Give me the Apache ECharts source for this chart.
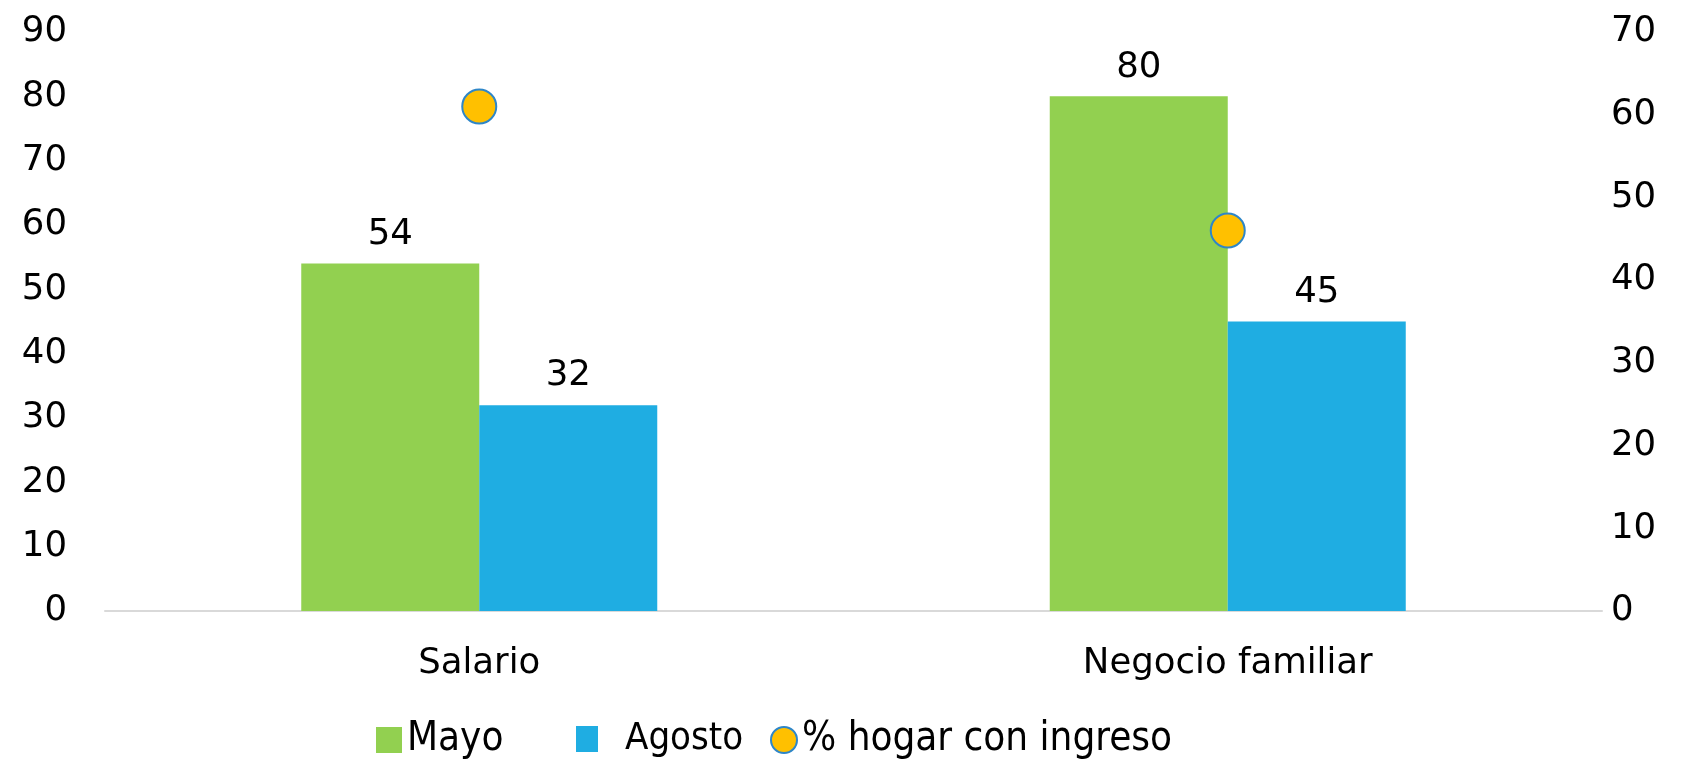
<!DOCTYPE html>
<html>
<head>
<meta charset="utf-8">
<script src="https://cdn.jsdelivr.net/npm/echarts@6/dist/echarts.min.js"></script>
<style>
html,body{margin:0;padding:0;background:#fff;}
#chart{width:1695px;height:759px;}
</style>
</head>
<body>
<div id="chart"></div>
<script>
var categories = ['Salario', 'Negocio familiar'];
var mayo = [54, 80];
var agosto = [32, 45];
var hogar = [61, 46];
var leftTicks = [0, 90, 10];
var rightTicks = [0, 70, 10];

var FONT = '"DejaVu Sans", sans-serif';
var NARROW = '"Liberation Sans Narrow", "DejaVu Sans Condensed", sans-serif';
var FS = 35.5;
var chart = echarts.init(document.getElementById('chart'));
var legendText = {fontFamily: NARROW, fontSize: 40, color: '#000'};
chart.setOption({
  animation: false,
  backgroundColor: '#fff',
  grid: {left: 105, right: 93, top: 32, bottom: 148, containLabel: false},
  legend: [
    {data: [{name: 'Mayo', icon: 'rect'}], left: 376, top: 720, itemWidth: 26, itemHeight: 26, textStyle: legendText, padding: 0},
    {data: [{name: 'Agosto', icon: 'rect'}], left: 576, top: 720, itemWidth: 22, itemHeight: 26,
     textStyle: Object.assign({}, legendText, {fontSize: 38, padding: [0, 0, 0, 22]}), padding: 0},
    {data: [{name: '% hogar con ingreso', icon: 'circle'}], left: 770, top: 720, itemWidth: 26, itemHeight: 26, textStyle: legendText, padding: 0}
  ],
  xAxis: {
    type: 'category',
    data: categories,
    axisLine: {lineStyle: {color: '#D9D9D9', width: 2}},
    axisTick: {show: false},
    axisLabel: {color: '#000', fontFamily: FONT, fontSize: FS, margin: 35}
  },
  yAxis: [
    {type: 'value', min: leftTicks[0], max: leftTicks[1], interval: leftTicks[2],
     splitLine: {show: false}, axisLine: {show: false}, axisTick: {show: false},
     axisLabel: {color: '#000', fontFamily: FONT, fontSize: FS, margin: 38}},
    {type: 'value', min: rightTicks[0], max: rightTicks[1], interval: rightTicks[2],
     splitLine: {show: false}, axisLine: {show: false}, axisTick: {show: false},
     axisLabel: {color: '#000', fontFamily: FONT, fontSize: FS, margin: 9}}
  ],
  series: [
    {name: 'Mayo', type: 'bar', data: mayo, barWidth: 178, barGap: '0%',
     itemStyle: {color: '#92D050'},
     label: {show: true, position: 'top', distance: 11, color: '#000', fontFamily: FONT, fontSize: FS}},
    {name: 'Agosto', type: 'bar', data: agosto, barWidth: 178, barGap: '0%',
     itemStyle: {color: '#1FADE2'},
     label: {show: true, position: 'top', distance: 11, color: '#000', fontFamily: FONT, fontSize: FS}},
    {name: '% hogar con ingreso', type: 'scatter', yAxisIndex: 1, data: hogar, symbol: 'circle', symbolSize: 34,
     itemStyle: {color: '#FFC000', borderColor: '#2E86C8', borderWidth: 2, opacity: 1}, z: 5}
  ]
});
</script>
</body>
</html>
